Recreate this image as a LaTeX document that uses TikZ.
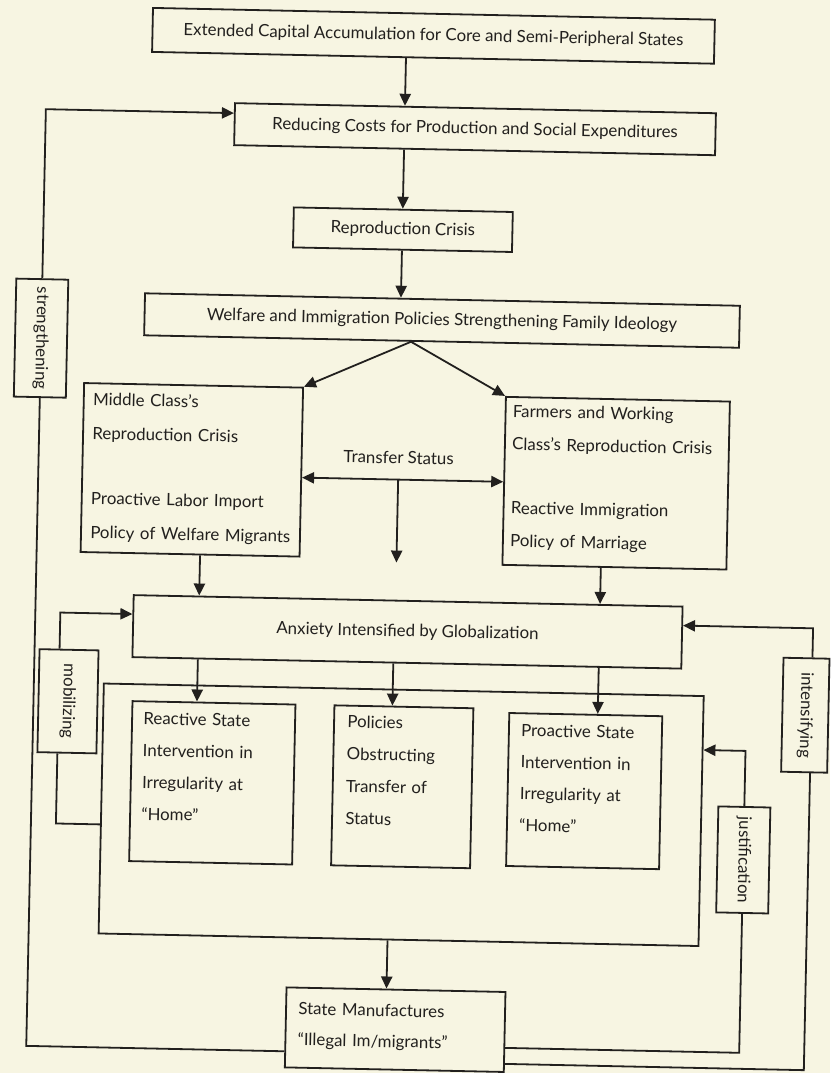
\documentclass[tikz,border=0pt]{standalone}
\usepackage{fontspec}
\setmainfont{Lato}
\usepackage{graphicx}
\usetikzlibrary{arrows.meta,calc}
\definecolor{paper}{RGB}{247,245,226}
\definecolor{ink}{RGB}{34,32,30}
\tikzset{>={Triangle[length=3mm,width=2.8mm]}}
\tikzset{bx/.append style={draw=ink, line width=0.45mm, text=ink, inner sep=0pt, font=\fontsize{12}{14}\selectfont}}
\tikzset{tx/.append style={text=ink, inner sep=0pt, align=left, text width=60mm, anchor=base west}}
\tikzset{lb/.append style={text=ink, inner sep=0pt, font=\fontsize{12}{14}\selectfont}}
\tikzset{tag/.append style={bx, font=\fontsize{12}{14}\selectfont}}
\tikzset{ln/.append style={draw=ink, line width=0.45mm}}
\tikzset{arr/.append style={ln, ->}}
\tikzset{dbl/.append style={ln, <->}}

\begin{document}
\begin{tikzpicture}[x=0.25mm,y=-0.25mm]
  \path[use as bounding box, fill=paper] (0,0) rectangle (830,1073);
  \begin{scope}[rotate around={-1.2:(415,536)}, transform shape]
    % main chain
    \node[bx, minimum width=140.5mm, minimum height=11mm] (cap) at (423,35.5) {Extended Capital Accumulation for Core and Semi-Peripheral States};
    \node[bx, minimum width=120.25mm, minimum height=10.5mm] (red) at (466.5,128) {Reducing Costs for Production and Social Expenditures};
    \node[bx, minimum width=54.75mm, minimum height=10mm] (rc) at (396.5,230) {Reproduction Crisis};
    \node[bx, minimum width=148.75mm, minimum height=10.5mm] (wel) at (437.5,320) {Welfare and Immigration Policies Strengthening Family Ideology};
    \node[bx, minimum width=54.75mm, minimum height=42.25mm] (mc) at (190.5,474.5) {};
    \node[bx, minimum width=56mm, minimum height=42mm] (fw) at (615,479) {};
    \node[bx, minimum width=137.25mm, minimum height=15.5mm] (anx) at (409.5,632) {Anxiety Intensified by Globalization};
    \node[bx, minimum width=150mm, minimum height=62.5mm] (cont) at (407,815) {};
    \node[bx, minimum width=40.75mm, minimum height=40mm] (rs) at (217.5,787) {};
    \node[bx, minimum width=34.75mm, minimum height=40mm] (pol) at (407.5,787) {};
    \node[bx, minimum width=38.25mm, minimum height=38.25mm] (ps) at (589.5,787.5) {};
    \node[bx, minimum width=54.75mm, minimum height=20mm] (sm) at (405.5,1030) {};
    % side tags
    \node[tag, minimum width=13mm, minimum height=29.5mm] (str) at (37,346) {\rotatebox{-90}{strengthening}};
    \node[tag, minimum width=14.75mm, minimum height=25.75mm] (mob) at (71.5,708.5) {\rotatebox{-90}{mobilizing}};
    \node[tag, minimum width=13mm, minimum height=26.5mm] (jus) at (750,853) {\rotatebox{-90}{justification}};
    \node[tag, minimum width=11.5mm, minimum height=28.5mm] (int) at (809,707) {\rotatebox{-90}{intensifying}};
    % texts of the tall boxes
    \node[tx, font=\fontsize{12}{24.2}\selectfont] (mct) at ($(mc.north west)+(10,23)$) {Middle Class’s\\Reproduction Crisis\\[22pt]Proactive Labor Import\\Policy of Welfare Migrants};
    \node[tx, font=\fontsize{12}{23.4}\selectfont] (fwt) at ($(fw.north west)+(8,21)$) {Farmers and Working\\Class’s Reproduction Crisis\\[22pt]Reactive Immigration\\Policy of Marriage};
    \node[tx, font=\fontsize{12}{22.7}\selectfont] (rst) at ($(rs.north west)+(12,24)$) {Reactive State\\Intervention in\\Irregularity at\\“Home”};
    \node[tx, font=\fontsize{12}{22.9}\selectfont] (polt) at ($(pol.north west)+(14,23)$) {Policies\\Obstructing\\Transfer of\\Status};
    \node[tx, font=\fontsize{12}{22.5}\selectfont] (pst) at ($(ps.north west)+(13,24)$) {Proactive State\\Intervention in\\Irregularity at\\“Home”};
    \node[tx, font=\fontsize{12}{22}\selectfont] (smt) at ($(sm.north west)+(13,28)$) {State Manufactures\\“Illegal Im/migrants”};
    \node[lb] (tsl) at (397,458) {Transfer Status};
    % helper points
    \coordinate (ax) at (396,0);
    \coordinate (lx) at (200.5,0);
    \coordinate (rx) at (601.5,0);
    \coordinate (dx) at (407,0);
    \coordinate (ts) at (397,480);
    \coordinate (tsend) at (397,563);
    % arrows down
    \path (cap.south -| ax) edge[arr] (red.north -| ax)
          (red.south -| ax) edge[arr] (rc.north -| ax)
          (rc.south -| ax) edge[arr] (wel.north -| ax);
    \path (wel.south -| dx) edge[arr] (mc.north east)
          (wel.south -| dx) edge[arr] (fw.north west);
    \path (mc.east |- ts) edge[dbl] (fw.west |- ts)
          (ts) edge[arr] (tsend);
    \path (mc.south -| lx) edge[arr] (anx.north -| lx)
          (fw.south -| rx) edge[arr] (anx.north -| rx);
    \path (anx.south -| lx) edge[arr] (rs.north -| lx)
          (anx.south -| ax) edge[arr] (pol.north -| ax)
          (anx.south -| rx) edge[arr] (ps.north -| rx)
          (cont.south -| ax) edge[arr] (sm.north -| ax);
    % feedback loops
    \coordinate (s1) at (0,1054);
    \coordinate (s2) at (0,117);
    \draw[ln] (sm.west |- s1) -| (str.south);
    \draw[arr] (str.north) |- (red.west |- s2);
    \coordinate (m1) at (62,831);
    \coordinate (m2) at (62,620);
    \draw[ln] (cont.west |- m1) -| (mob.south -| m1);
    \draw[arr] (mob.north -| m1) |- (anx.west |- m2);
    \coordinate (j1) at (0,1046);
    \coordinate (j2) at (0,744);
    \draw[ln] (sm.east |- j1) -| (jus.south);
    \draw[arr] (jus.north) |- (cont.east |- j2);
    \coordinate (i1) at (815,1062);
    \coordinate (i2) at (815,620);
    \draw[ln] (sm.east |- i1) -| (int.south -| i1);
    \draw[arr] (int.north -| i1) |- (anx.east |- i2);
  \end{scope}
\end{tikzpicture}
\end{document}
